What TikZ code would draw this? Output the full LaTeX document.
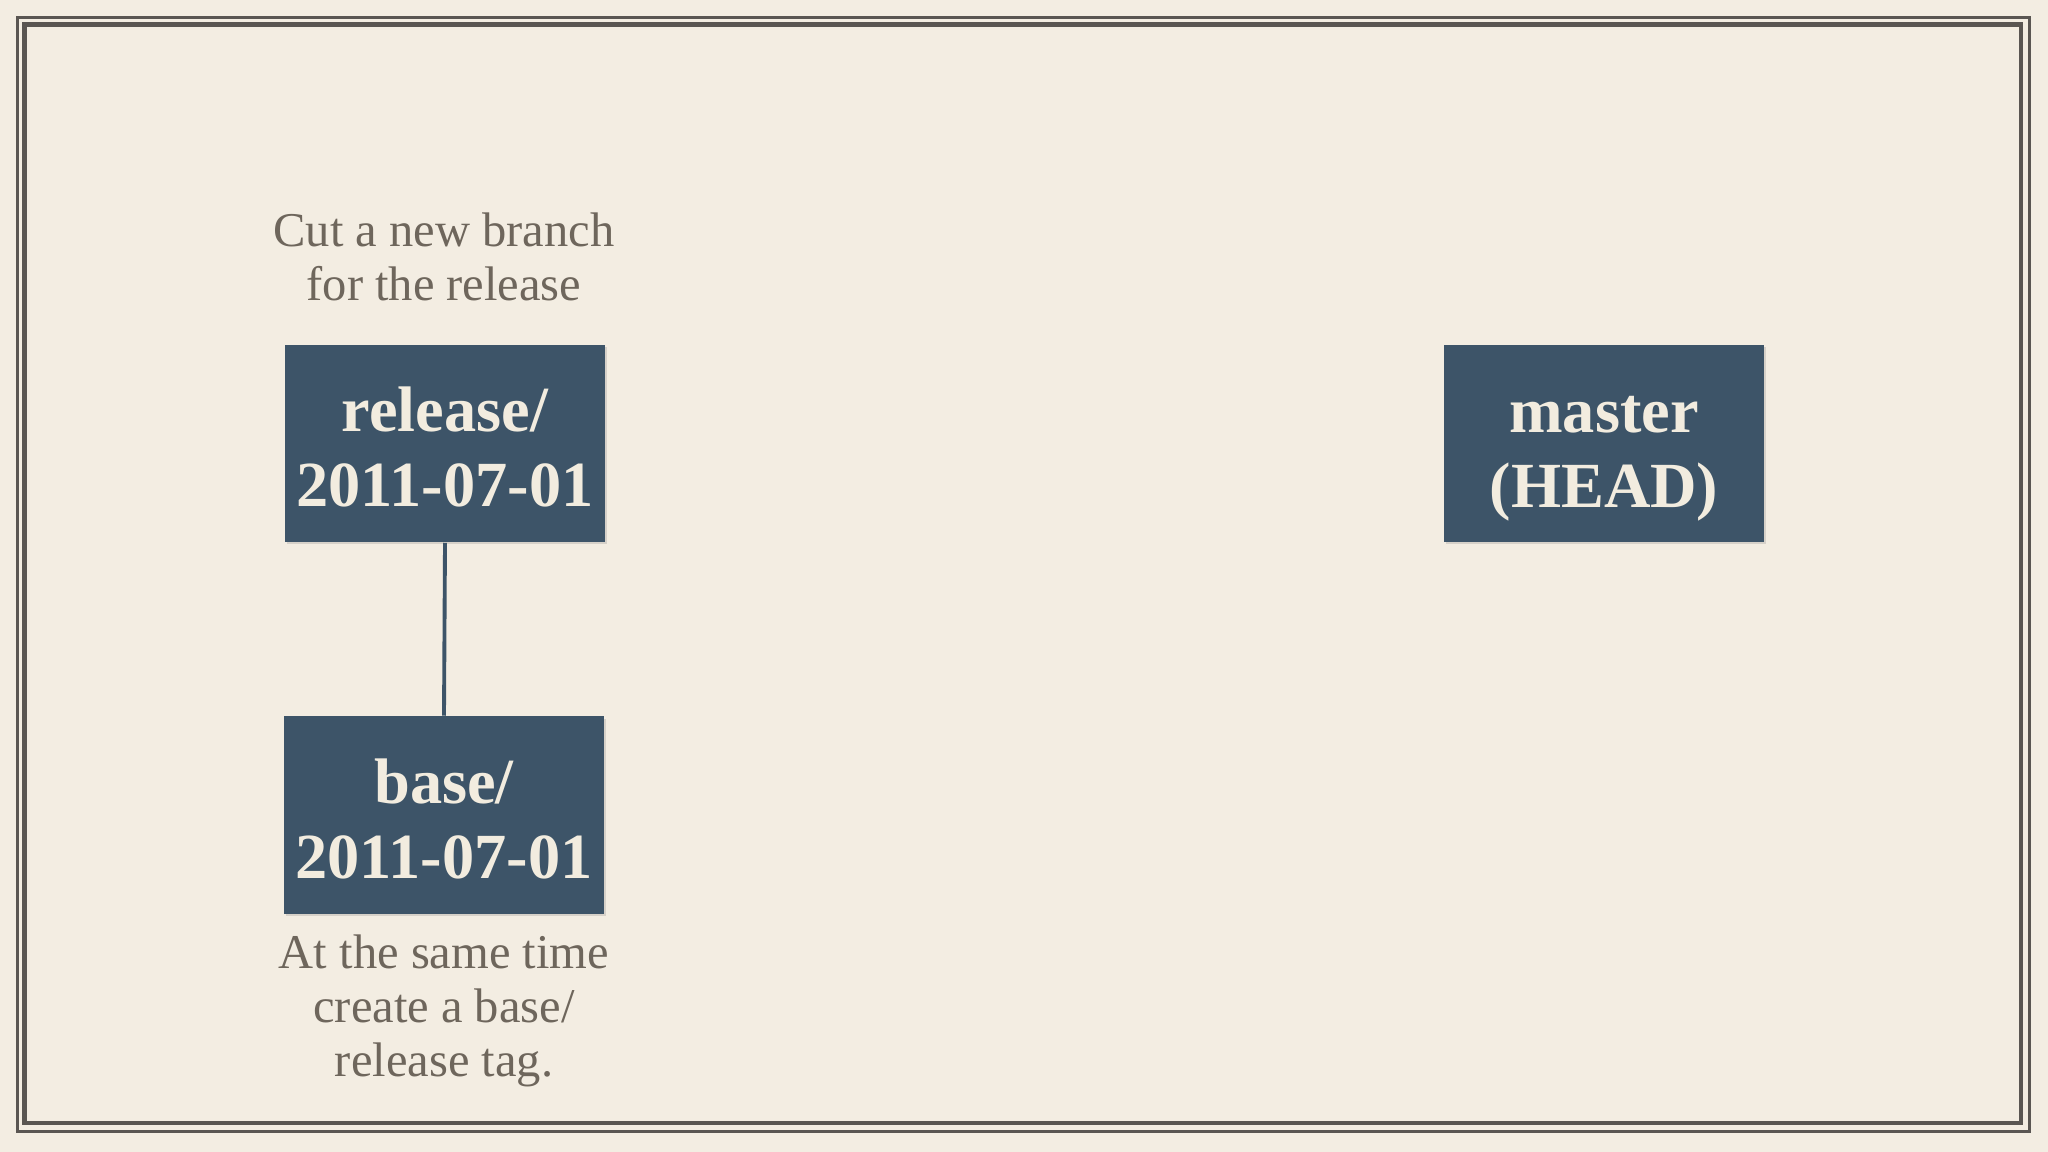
\documentclass[tikz,border=0pt]{standalone}
\usepackage{fontspec}
\setmainfont{Liberation Serif}
\usetikzlibrary{shadows}
\definecolor{bgcream}{HTML}{F3EDE2}
\definecolor{framegray}{HTML}{5A5652}
\definecolor{boxblue}{HTML}{3D5468}
\definecolor{boxtext}{HTML}{F2ECDF}
\definecolor{notegray}{HTML}{6E665C}
\newcommand{\zerodepth}[1]{\raisebox{0pt}[\height][0pt]{#1}}
\begin{document}
\begin{tikzpicture}[x=0.01cm,y=-0.01cm,
  branchbox/.style={draw=none,fill=boxblue,minimum width=3.2cm,minimum height=1.97cm,inner sep=0pt,
    text=boxtext,align=center,font=\fontsize{18.3}{21.3}\selectfont\bfseries,
    drop shadow={opacity=0.25,shadow xshift=0.6pt,shadow yshift=-0.6pt}},
  note/.style={text=notegray,align=center,inner sep=0pt,font=\fontsize{13.8}{15.4}\selectfont},
  link/.style={draw=boxblue,line width=1.1pt}]
  \fill[bgcream] (0,0) rectangle (2048,1152);
  \useasboundingbox (0,0) rectangle (2048,1152);
  % frame
  \draw[framegray,line width=0.8pt] (17.5,17.5) rectangle (2029.5,1131.5);
  \draw[framegray,line width=1.3pt] (24.5,24.5) rectangle (2021,1123);
  % boxes
  \node[branchbox] (release) at (445,443.5) {\strut release/\\2011-07-01};
  \node[branchbox] (base) at (444,815) {\strut base/\\2011-07-01};
  \node[branchbox] (master) at (1604,443.5) {\strut master\\\zerodepth{(HEAD)}};
  \draw[link] (release.south) -- (base.north);
  % notes
  \node[note] (cutnote) at (444,257) {Cut a new branch\\for the release};
  \node[note] (tagnote) at (444,1011) {At the same time\\create a base/\\release tag.};
\end{tikzpicture}
\end{document}
